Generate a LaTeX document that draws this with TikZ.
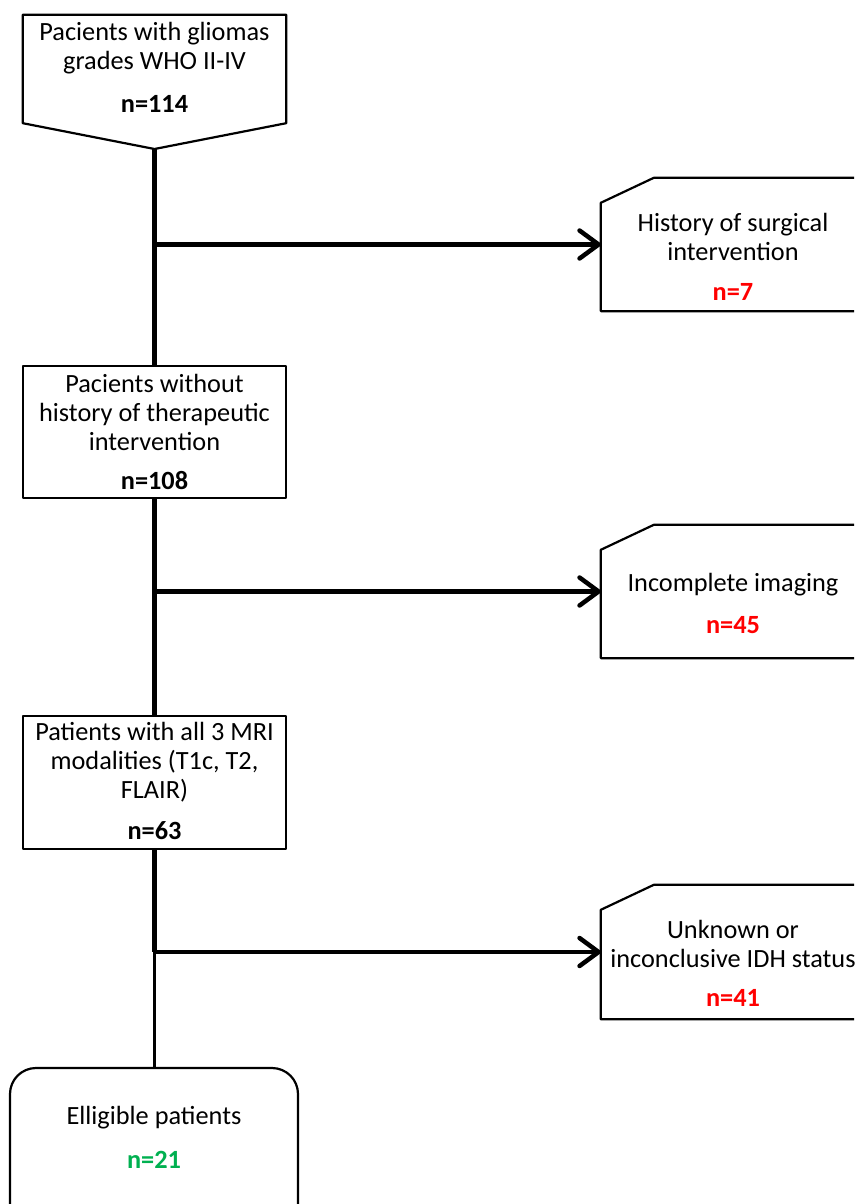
\documentclass[tikz,border=0pt]{standalone}
\usepackage{fontspec}
\setmainfont{Carlito}
\usetikzlibrary{arrows.meta}
\definecolor{nred}{RGB}{255,0,0}
\definecolor{ngreen}{RGB}{0,176,80}
\begin{document}
\begin{tikzpicture}[x=1pt,y=-1pt,
  boxline/.style={line width=2.2pt, line join=round},
  shapebox/.style={draw=none, inner sep=0pt},
  txt/.style={inner sep=0pt, align=center, font=\fontsize{26.3}{29}\selectfont},
  num/.style={inner sep=0pt, font=\fontsize{26.3}{29}\selectfont\bfseries},
  trunk/.style={line width=4.5pt},
  thinline/.style={line width=2.5pt},
  arrowline/.style={line width=4.5pt, -{Straight Barb[length=19pt,width=28pt,round]}}
]
\useasboundingbox (0,0) rectangle (854,1204);
\clip (0,0) rectangle (854,1204);
% left column boxes
\node[shapebox, minimum width=263pt, minimum height=108pt] (b1) at (154.5,69) {};
\coordinate (t1) at (154.5,149);
\draw[boxline] (b1.south west) -- (b1.north west) -- (b1.north east) -- (b1.south east) -- (t1) -- cycle;
\node[txt] (b1t) at (154.5,48.5) {Pacients with gliomas\\grades WHO II-IV};
\node[num] (b1n) at (154.5,104) {n=114};

\node[shapebox, draw, boxline, minimum width=263pt, minimum height=132pt] (b2) at (154.5,432) {};
\node[txt] (b2t) at (154.5,412) {Pacients without\\history of therapeutic\\intervention};
\node[num] (b2n) at (154.5,481) {n=108};

\node[shapebox, draw, boxline, minimum width=263pt, minimum height=133pt] (b3) at (154.5,782.5) {};
\node[txt] (b3t) at (154.5,762) {Patients with all 3 MRI\\modalities (T1c, T2,\\FLAIR)};
\node[num] (b3n) at (154.5,831) {n=63};

\node[shapebox, draw, boxline, rounded corners=26pt, minimum width=288pt, minimum height=200pt] (b4) at (154,1168) {};
\node[txt] (b4t) at (154,1118) {Elligible patients};
\node[num, text=ngreen] (b4n) at (154,1160) {n=21};

% right column boxes
\node[shapebox, minimum width=264pt, minimum height=133pt] (x1) at (733,244.5) {};
\draw[boxline] (x1.south west) -- ([yshift=-25pt]x1.north west) -- ([xshift=53pt]x1.north west) -- (x1.north east) -- (x1.south east) -- cycle;
\node[txt] (x1t) at (733,236.5) {History of surgical\\intervention};
\node[num, text=nred] (x1n) at (733,292) {n=7};

\node[shapebox, minimum width=264pt, minimum height=133pt] (x2) at (733,591.5) {};
\draw[boxline] (x2.south west) -- ([yshift=-25pt]x2.north west) -- ([xshift=53pt]x2.north west) -- (x2.north east) -- (x2.south east) -- cycle;
\node[txt] (x2t) at (733,585) {Incomplete imaging};
\node[num, text=nred] (x2n) at (733,625) {n=45};

\node[shapebox, minimum width=264pt, minimum height=134pt] (x3) at (733,952) {};
\draw[boxline] (x3.south west) -- ([yshift=-25pt]x3.north west) -- ([xshift=53pt]x3.north west) -- (x3.north east) -- (x3.south east) -- cycle;
\node[txt] (x3t) at (733,944) {Unknown or\\inconclusive IDH status};
\node[num, text=nred] (x3n) at (733,998) {n=41};

% connectors
\coordinate (j1) at (154.5,244.5);
\coordinate (j2) at (154.5,591.5);
\coordinate (j3) at (154.5,952);
\draw[trunk] (t1) -- (b2.north);
\draw[trunk] (b2.south) -- (b3.north);
\draw[trunk] (b3.south) -- (j3);
\draw[thinline] (j3) -- (j3 |- b4.north);
\draw[arrowline] (j1) -- (x1.west);
\draw[arrowline] (j2) -- (x2.west);
\draw[arrowline] (j3) -- (x3.west);
\end{tikzpicture}
\end{document}
